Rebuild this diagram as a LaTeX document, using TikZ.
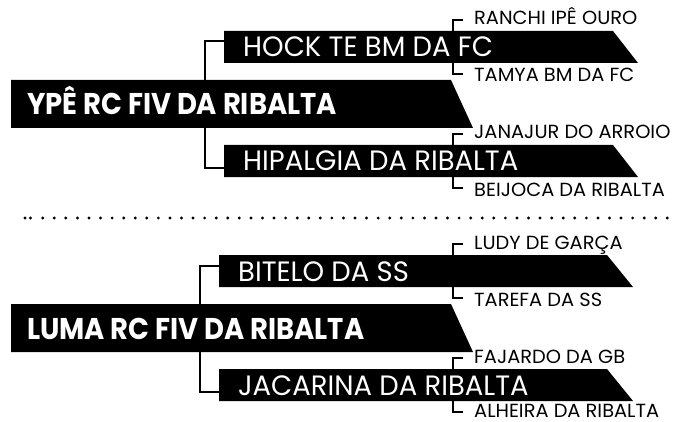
\documentclass[tikz,border=0pt]{standalone}
\usepackage{fontspec}
\newfontfamily\pedfont[FakeStretch=0.915]{Poppins}
\newfontfamily\barfont[FakeStretch=0.98]{Poppins}
\newfontfamily\leaffont[FakeStretch=1.02]{Poppins}

\begin{document}
\begin{tikzpicture}[x=1pt, y=-1pt,
	conn/.style={line width=2.6pt},
	dot/.style={fill=black},
	maintext/.style={anchor=base west, inner sep=0pt, text=white, font=\pedfont\bfseries\fontsize{30}{30}\selectfont},
	subtext/.style={anchor=base west, inner sep=0pt, text=white, font=\barfont\fontsize{28}{28}\selectfont},
	leaftext/.style={anchor=base west, inner sep=0pt, font=\leaffont\fontsize{19}{19}\selectfont}]
	\useasboundingbox (0,0) rectangle (676,422);

	% first pedigree
	\fill (11,80) -- (451,80) -- (473,128) -- (11,128) -- cycle;
	\fill (224,31) -- (613,31) -- (638,63) -- (224,63) -- cycle;
	\fill (224,145) -- (613,145) -- (638,177) -- (224,177) -- cycle;

	\coordinate (ype-n) at (205,80);
	\coordinate (ype-s) at (205,128);
	\coordinate (hock-w) at (224,41);
	\coordinate (hipalgia-w) at (224,168);
	\draw [conn] (ype-n) |- (hock-w);
	\draw [conn] (ype-s) |- (hipalgia-w);

	\coordinate (hock-n) at (453,31);
	\coordinate (hock-s) at (453,63);
	\coordinate (hipalgia-n) at (453,145);
	\coordinate (hipalgia-s) at (453,177);
	\coordinate (ranchi-w) at (463,20);
	\coordinate (tamya-w) at (463,74);
	\coordinate (janajur-w) at (463,134);
	\coordinate (beijoca-w) at (463,188);
	\draw [conn] (hock-n) |- (ranchi-w);
	\draw [conn] (hock-s) |- (tamya-w);
	\draw [conn] (hipalgia-n) |- (janajur-w);
	\draw [conn] (hipalgia-s) |- (beijoca-w);

	\node [maintext] (ype) at (27,115) {YPÊ RC FIV DA RIBALTA};
	\node [subtext] (hock) at (243,57) {HOCK TE BM DA FC};
	\node [subtext] (hipalgia) at (243,171) {HIPALGIA DA RIBALTA};
	\node [leaftext] (ranchi) at (474,25) {RANCHI IPÊ OURO};
	\node [leaftext] (tamya) at (474,82) {TAMYA BM DA FC};
	\node [leaftext] (janajur) at (474,139) {JANAJUR DO ARROIO};
	\node [leaftext] (beijoca) at (474,196) {BEIJOCA DA RIBALTA};

	% separator
	\fill [dot] (25,218) circle (1.6pt);
	\fill [dot] (30.5,218) circle (1.6pt);
	\foreach \i in {0,...,54}
		\fill [dot] ({42.7+11.567*\i},218) circle (1.6pt);

	% second pedigree
	\fill (11,304) -- (451,304) -- (473,352) -- (11,352) -- cycle;
	\fill (219,255) -- (607,255) -- (633,287) -- (219,287) -- cycle;
	\fill (219,369) -- (607,369) -- (633,401) -- (219,401) -- cycle;

	\coordinate (luma-n) at (200,304);
	\coordinate (luma-s) at (200,352);
	\coordinate (bitelo-w) at (219,266);
	\coordinate (jacarina-w) at (219,392);
	\draw [conn] (luma-n) |- (bitelo-w);
	\draw [conn] (luma-s) |- (jacarina-w);

	\coordinate (bitelo-n) at (453,255);
	\coordinate (bitelo-s) at (453,287);
	\coordinate (jacarina-n) at (453,369);
	\coordinate (jacarina-s) at (453,401);
	\coordinate (ludy-w) at (463,244);
	\coordinate (tarefa-w) at (463,298);
	\coordinate (fajardo-w) at (463,358);
	\coordinate (alheira-w) at (463,412);
	\draw [conn] (bitelo-n) |- (ludy-w);
	\draw [conn] (bitelo-s) |- (tarefa-w);
	\draw [conn] (jacarina-n) |- (fajardo-w);
	\draw [conn] (jacarina-s) |- (alheira-w);

	\node [maintext] (luma) at (27,339) {LUMA RC FIV DA RIBALTA};
	\node [subtext] (bitelo) at (238,281) {BITELO DA SS};
	\node [subtext] (jacarina) at (238,395) {JACARINA DA RIBALTA};
	\node [leaftext] (ludy) at (474,249) {LUDY DE GARÇA};
	\node [leaftext] (tarefa) at (474,306) {TAREFA DA SS};
	\node [leaftext] (fajardo) at (474,363) {FAJARDO DA GB};
	\node [leaftext] (alheira) at (474,417) {ALHEIRA DA RIBALTA};
\end{tikzpicture}
\end{document}
